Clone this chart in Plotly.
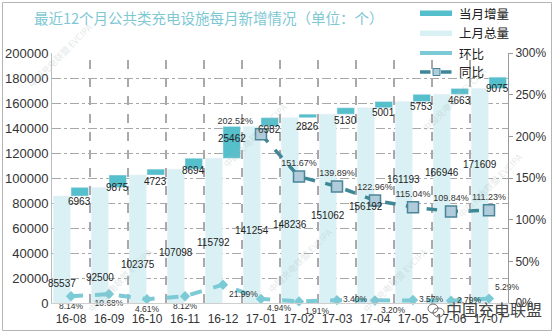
import plotly.graph_objects as go

# ---- data -------------------------------------------------------------
months = ["16-08", "16-09", "16-10", "16-11", "16-12", "17-01",
          "17-02", "17-03", "17-04", "17-05", "17-06", "17-07"]
prev_total = [85537, 92500, 102375, 107098, 115792, 141254,
              148236, 151062, 156192, 161193, 166946, 171609]
monthly_added = [6963, 9875, 4723, 8694, 25462, 6982,
                 2826, 5130, 5001, 5753, 4663, 9075]
mom_pct = [8.14, 10.68, 4.61, 8.12, 21.99, 4.94,
           1.91, 3.40, 3.20, 3.57, 2.79, 5.29]
yoy_months = ["17-01", "17-02", "17-03", "17-04", "17-05", "17-06", "17-07"]
yoy_pct = [202.52, 151.67, 139.89, 122.96, 115.04, 109.84, 111.23]

# ---- label placement (styling only) ----------------------------------
total_label_y = [16000, 20800, 31200, 40800, 48800, 58400,
                 63200, 70400, 77600, 99200, 104800, 111200]
added_label_shift = [-5, 0, -6, -1, 20, -3, -9, -6, -5, -5, -6, 0]
mom_text_pos = ["bottom center", "bottom center", "bottom center", "bottom center",
                "bottom right", "bottom right", "bottom right", "middle right",
                "bottom right", "middle right", "middle right", "top right"]
yoy_text_pos = ["top left"] + ["top center"] * 6

TEAL = "#55bfcb"
PALE = "#d9f1f4"
MOM_C = "#7ccad6"
YOY_C = "#3d8796"
NUM_FONT = "Liberation Sans"
CJK_FONT = "Noto Sans CJK SC"

xpos = list(range(len(months)))
yoy_x = [months.index(m) for m in yoy_months]

# plot-area geometry in pixels, used for legend / frame placement
L, R, T, B, W, H = 52, 46, 53, 30, 554, 333
PW, PH = W - L - R, H - T - B


def fx(p):
    return (p - L) / PW


def fy(p):
    return (H - B - p) / PH


fig = go.Figure()

fig.add_trace(go.Bar(
    x=xpos, y=prev_total, name="上月总量", marker_color=PALE,
    offset=-0.46, width=0.44, showlegend=False, yaxis="y"))
fig.add_trace(go.Bar(
    x=xpos, y=monthly_added, base=prev_total, name="当月增量", marker_color=TEAL,
    offset=0.0, width=0.46, showlegend=False, yaxis="y"))

fig.add_trace(go.Scatter(
    x=xpos, y=mom_pct, name="环比", yaxis="y2", mode="lines+markers+text",
    line=dict(color=MOM_C, width=4, dash="dash"),
    marker=dict(symbol="diamond", size=8, color=MOM_C),
    text=[f"{v:.2f}%" for v in mom_pct], textposition=mom_text_pos,
    textfont=dict(family=NUM_FONT, size=8.5, color="#333333"),
    showlegend=False, cliponaxis=False))

fig.add_trace(go.Scatter(
    x=yoy_x, y=yoy_pct, name="同比", yaxis="y2", mode="lines+markers+text",
    line=dict(color=YOY_C, width=3.5, dash="dash"),
    marker=dict(symbol="square", size=11, color="#b0cbda",
                line=dict(color="#4a8599", width=1.5)),
    text=[f"{v:.2f}%" for v in yoy_pct], textposition=yoy_text_pos,
    textfont=dict(family=NUM_FONT, size=9, color="#333333"),
    showlegend=False, cliponaxis=False))

annotations = []
for i, (tot, add) in enumerate(zip(prev_total, monthly_added)):
    annotations.append(dict(
        x=i - 0.24, y=total_label_y[i], xref="x", yref="y", text=str(tot),
        xanchor="center", yanchor="middle", showarrow=False,
        font=dict(family=NUM_FONT, size=10, color="#222222")))
    annotations.append(dict(
        x=i + 0.23, y=tot, xref="x", yref="y", text=str(add), yshift=added_label_shift[i],
        xanchor="center", yanchor="middle", showarrow=False,
        font=dict(family=NUM_FONT, size=10, color="#222222")))

# title
annotations.append(dict(
    x=fx(209), y=fy(17), xref="paper", yref="paper", xanchor="center", yanchor="middle",
    text="最近12个月公共类充电设施每月新增情况（单位：个）", showarrow=False,
    font=dict(family=CJK_FONT, size=14.5, color="#7ec8d4")))

# faint tiled watermark
for cx, cy in [(60, 55), (120, 280), (255, 135), (300, 260), (455, 100), (395, 280), (490, 185)]:
    annotations.append(dict(
        x=fx(cx), y=fy(cy), xref="paper", yref="paper", xanchor="center", yanchor="middle",
        text="中国充电联盟 EVCIPA", showarrow=False, textangle=-45,
        font=dict(family=CJK_FONT, size=9, color="rgba(170,185,190,0.35)")))

# bottom-right mark
annotations.append(dict(
    x=fx(494), y=fy(309), xref="paper", yref="paper", xanchor="center", yanchor="middle",
    text="中国充电联盟", showarrow=False,
    font=dict(family=CJK_FONT, size=16, color="#444444")))

shapes = []
# dashed separators between month categories
for k in range(len(months) - 1):
    shapes.append(dict(type="line", xref="x", yref="paper", x0=k + 0.5, x1=k + 0.5,
                       y0=0, y1=1, layer="below",
                       line=dict(color="#555555", width=1, dash="dash")))

# custom legend
legend_rows = [("当月增量", 13), ("上月总量", 33), ("环比", 53), ("同比", 72)]
sx0, sx1 = 420, 452
shapes.append(dict(type="rect", xref="paper", yref="paper",
                   x0=fx(sx0), x1=fx(sx1), y0=fy(16), y1=fy(10.5),
                   fillcolor=TEAL, line=dict(width=0)))
shapes.append(dict(type="rect", xref="paper", yref="paper",
                   x0=fx(sx0), x1=fx(sx1), y0=fy(36), y1=fy(30.5),
                   fillcolor=PALE, line=dict(width=0)))
shapes.append(dict(type="line", xref="paper", yref="paper",
                   x0=fx(sx0), x1=fx(sx1), y0=fy(53), y1=fy(53),
                   line=dict(color=MOM_C, width=4)))
shapes.append(dict(type="line", xref="paper", yref="paper",
                   x0=fx(sx0), x1=fx(sx1), y0=fy(72), y1=fy(72),
                   line=dict(color=YOY_C, width=3.5, dash="dash")))
shapes.append(dict(type="rect", xref="paper", yref="paper",
                   x0=fx(433), x1=fx(440), y0=fy(75.5), y1=fy(68.5),
                   fillcolor="#b0cbda", line=dict(color="#4a8599", width=1)))
for label, py in legend_rows:
    annotations.append(dict(
        x=fx(457), y=fy(py), xref="paper", yref="paper", text=label,
        xanchor="left", yanchor="middle", showarrow=False,
        font=dict(family=CJK_FONT, size=12.5, color="#222222")))

# outer frame
shapes.append(dict(type="rect", xref="paper", yref="paper",
                   x0=fx(2.5), x1=fx(551.5), y0=fy(330.5), y1=fy(2.5),
                   line=dict(color="#b5b5b5", width=1), layer="below"))

# small chat-bubble icon next to the mark
shapes.append(dict(type="circle", xref="paper", yref="paper",
                   x0=fx(428), x1=fx(438), y0=fy(313), y1=fy(304),
                   line=dict(color="#666666", width=1)))
shapes.append(dict(type="circle", xref="paper", yref="paper",
                   x0=fx(433), x1=fx(444), y0=fy(317), y1=fy(308),
                   line=dict(color="#666666", width=1)))

fig.update_layout(
    width=W, height=H,
    margin=dict(l=L, r=R, t=T, b=B, pad=0, autoexpand=False),
    paper_bgcolor="white", plot_bgcolor="white",
    barmode="overlay",
    showlegend=False,
    xaxis=dict(
        range=[-0.5, len(months) - 0.5], tickmode="array", tickvals=xpos, ticktext=months,
        showgrid=False, zeroline=False, showline=True, linecolor="#cfcfcf",
        automargin=False,
        ticks="outside", ticklen=5, tickcolor="rgba(0,0,0,0)",
        tickfont=dict(family=NUM_FONT, size=12, color="#333333")),
    yaxis=dict(
        range=[0, 200000], dtick=20000, tickformat="d", showgrid=True,
        gridcolor="#a8a8a8", griddash="dashdot", gridwidth=1, zeroline=False,
        showline=True, linecolor="#bdbdbd", ticks="", automargin=False,
        tickfont=dict(family=NUM_FONT, size=13, color="#333333")),
    yaxis2=dict(
        range=[0, 300], dtick=50, overlaying="y", side="right", ticksuffix="%",
        showgrid=False, zeroline=False, showline=True, linecolor="#9a9a9a",
        ticks="outside", ticklen=4, tickcolor="#9a9a9a", automargin=False,
        tickfont=dict(family=NUM_FONT, size=12, color="#333333")),
    annotations=annotations,
    shapes=shapes,
)

fig.write_html("out.html")
